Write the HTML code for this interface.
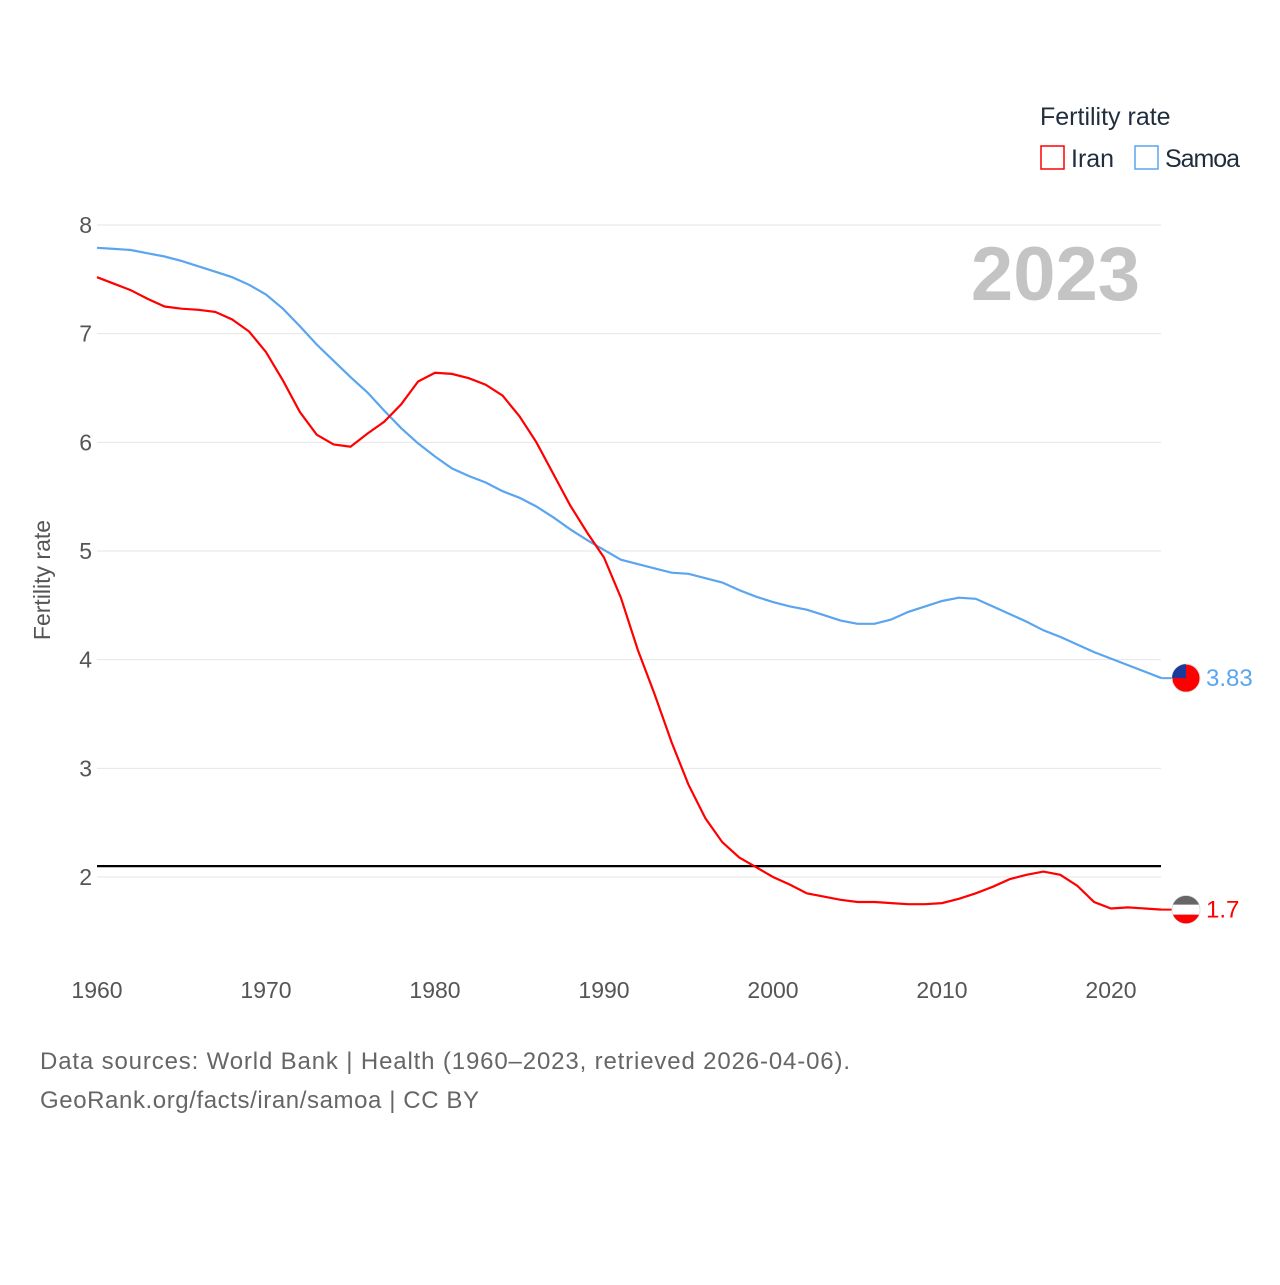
<!DOCTYPE html>
<html><head><meta charset="utf-8"><style>
body{margin:0;background:#fff;}
svg text{font-family:"Liberation Sans",sans-serif;}
</style></head><body>
<svg id="chart" width="1280" height="1280" viewBox="0 0 1280 1280">
<text x="1040" y="125" font-size="25" fill="#1f2d3d">Fertility rate</text>
<g><rect x="1041" y="146" width="23" height="23" fill="none" stroke="#f00" stroke-width="1.5"/><text x="1071" y="167" font-size="25" fill="#1f2d3d">Iran</text></g>
<g><rect x="1135" y="146" width="23" height="23" fill="none" stroke="#5aa5f0" stroke-width="1.5"/><text x="1165" y="167" font-size="25" fill="#1f2d3d" textLength="75">Samoa</text></g>
<text x="1140" y="300" font-size="76" font-weight="bold" fill="#c4c4c4" text-anchor="end">2023</text>
<text transform="translate(50,580) rotate(-90)" font-size="23" fill="#555" text-anchor="middle">Fertility rate</text>
<g id="grid"></g><g id="lines"></g>
<text x="40" y="1069" font-size="24" fill="#666" textLength="810">Data sources: World Bank | Health (1960–2023, retrieved 2026-04-06).</text>
<text x="40" y="1108" font-size="24" fill="#666" textLength="439">GeoRank.org/facts/iran/samoa | CC BY</text>
</svg>
<script>
const years=[];for(let y=1960;y<=2023;y++)years.push(y);
const yTicks=[2,3,4,5,6,7,8];
const xTicks=[1960,1970,1980,1990,2000,2010,2020];
const iranVals=[7.52,7.46,7.40,7.32,7.25,7.23,7.22,7.20,7.13,7.02,6.83,6.57,6.28,6.07,5.98,5.96,6.08,6.19,6.35,6.56,6.64,6.63,6.59,6.53,6.43,6.24,6.00,5.71,5.42,5.17,4.94,4.57,4.09,3.68,3.24,2.85,2.54,2.32,2.18,2.09,2.00,1.93,1.85,1.82,1.79,1.77,1.77,1.76,1.75,1.75,1.76,1.80,1.85,1.91,1.98,2.02,2.05,2.02,1.92,1.77,1.71,1.72,1.71,1.70];
const samoaVals=[7.79,7.78,7.77,7.74,7.71,7.67,7.62,7.57,7.52,7.45,7.36,7.23,7.07,6.90,6.75,6.60,6.46,6.29,6.13,5.99,5.87,5.76,5.69,5.63,5.55,5.49,5.41,5.31,5.20,5.10,5.01,4.92,4.88,4.84,4.80,4.79,4.75,4.71,4.64,4.58,4.53,4.49,4.46,4.41,4.36,4.33,4.33,4.37,4.44,4.49,4.54,4.57,4.56,4.49,4.42,4.35,4.27,4.21,4.14,4.07,4.01,3.95,3.89,3.83];
const refLine=[2.1];
const X=y=>97+(y-1960)*(1014/60);
const Y=v=>225+(8-v)*108.67;
const NS="http://www.w3.org/2000/svg";
const grid=document.getElementById('grid'),lines=document.getElementById('lines');
function mk(tag,attrs,parent){const e=document.createElementNS(NS,tag);for(const k in attrs)e.setAttribute(k,attrs[k]);parent.appendChild(e);return e;}
yTicks.forEach(t=>{
 const l=mk('line',{x1:97,x2:1161,y1:Y(t),y2:Y(t),stroke:'#e6e6e6','stroke-width':1},grid);
 
 
 const tx=mk('text',{x:92,y:Y(t)+8,'font-size':23,fill:'#555','text-anchor':'end'},grid);tx.textContent=t;
 
 
});
xTicks.forEach(t=>{
 const tx=mk('text',{x:X(t),y:998,'font-size':23,fill:'#555','text-anchor':'middle'},grid);tx.textContent=t;
 
 
});
const rl=mk('line',{x1:97,x2:1161,y1:Y(refLine[0]),y2:Y(refLine[0]),stroke:'#000','stroke-width':2.2},lines);


function series(vals,color,name,label){
 const d=vals.map((v,i)=>(i?'L':'M')+X(years[i]).toFixed(1)+','+Y(v).toFixed(1)).join(' ');
 const p=mk('path',{d:d,fill:'none',stroke:color,'stroke-width':2.2},lines);
 
 
 const last=vals[vals.length-1],ly=Y(last);
 mk('line',{x1:X(2023),x2:1172,y1:ly,y2:ly,stroke:color,'stroke-width':2},lines);
 const c=mk('circle',{cx:1186,cy:ly,r:14,fill:name==='samoa'?'#f00':'#fff',stroke:'#ddd'},lines);
 
 
 if(name==='samoa'){mk('path',{d:`M1172,${ly} A14,14 0 0 1 1186,${ly-14} L1186,${ly} Z`,fill:'#1c3a9c'},lines);}
 else{mk('path',{d:`M1173,${ly-5} A14,14 0 0 1 1199,${ly-5} Z`,fill:'#666'},lines);mk('path',{d:`M1173,${ly+5} A14,14 0 0 0 1199,${ly+5} Z`,fill:'#f00'},lines);}
 const t=mk('text',{x:1206,y:ly+8,'font-size':24,fill:color},lines);t.textContent=label;
 
 
}
series(samoaVals,'#5aa5f0','samoa','3.83');
series(iranVals,'#f00','iran','1.7');
</script>
</body></html>
